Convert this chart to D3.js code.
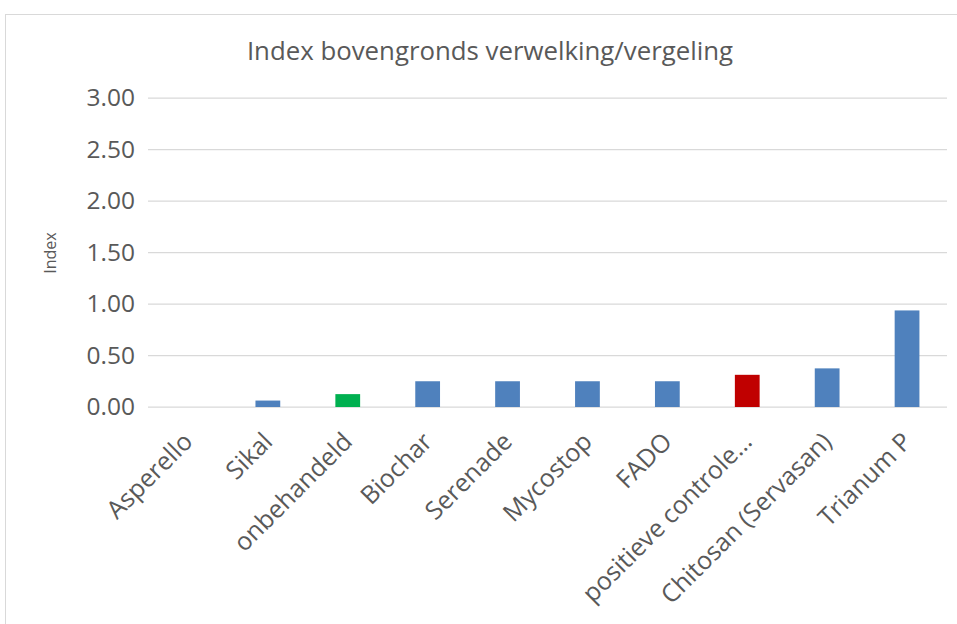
<!DOCTYPE html>
<html><head><meta charset="utf-8">
<script src="https://cdn.jsdelivr.net/npm/d3@7"></script>
<style>body{margin:0;background:#fff;} svg{display:block;}</style>
</head><body>
<svg id="c" width="957" height="624"></svg>
<script>
const categories = ["Asperello","Sikal","onbehandeld","Biochar","Serenade","Mycostop","FADO","positieve controle…","Chitosan (Servasan)","Trianum P"];
const values = [0, 0.0625, 0.125, 0.25, 0.25, 0.25, 0.25, 0.3125, 0.375, 0.9375];
const barColors = ["#4f81bd","#4f81bd","#00b050","#4f81bd","#4f81bd","#4f81bd","#4f81bd","#c00000","#4f81bd","#4f81bd"];
const yTicks = [0, 0.5, 1, 1.5, 2, 2.5, 3];
const chartTitle = "Index bovengronds verwelking/vergeling";
const yTitle = "Index";

(function(){
const svg = d3.select("#c");
const font = "'Open Sans', sans-serif";
const pL = 148, pR = 947, pT = 98, pB = 407;

svg.append("rect").attr("x",5.5).attr("y",14.5).attr("width",1000).attr("height",1000)
  .attr("fill","#fff").attr("stroke","#d9d9d9");

const x = d3.scaleBand().domain(categories).range([pL,pR]).paddingInner(0.69).paddingOuter(0.345);
const y = d3.scaleLinear().domain([0,3]).range([pB,pT]);

svg.append("g").selectAll("line").data(yTicks).join("line")
  .attr("x1",pL).attr("x2",pR).attr("y1",d=>y(d)).attr("y2",d=>y(d))
  .attr("stroke","#d9d9d9").attr("stroke-width",1.25);

const ya = svg.append("g").attr("transform",`translate(${pL},0)`)
  .call(d3.axisLeft(y).tickValues(yTicks).tickFormat(d3.format(".2f")).tickSize(0).tickPadding(13));
ya.select(".domain").remove();
ya.selectAll("text").attr("font-family",font).attr("font-size",24.5).attr("fill","#595959");

svg.append("g").selectAll("rect").data(categories).join("rect")
  .attr("x",d=>x(d)).attr("width",x.bandwidth())
  .attr("y",(d,i)=>y(values[i])).attr("height",(d,i)=>y(0)-y(values[i]))
  .attr("fill",(d,i)=>barColors[i]);

const xa = svg.append("g").attr("transform",`translate(0,${pB})`)
  .call(d3.axisBottom(x).tickSize(0).tickPadding(0));
xa.select(".domain").remove();
xa.selectAll("text").attr("font-family",font).attr("font-size",25).attr("fill","#595959")
  .attr("text-anchor","end").attr("dy","0.35em")
  .attr("transform","translate(0,30) rotate(-45)");

svg.append("text").attr("x",490).attr("y",60).attr("text-anchor","middle")
  .attr("font-family",font).attr("font-size",25.8).attr("fill","#595959").text(chartTitle);

svg.append("text").attr("transform","translate(56,253) rotate(-90)").attr("text-anchor","middle")
  .attr("font-family",font).attr("font-size",16).attr("fill","#595959").text(yTitle);
})();
</script>
</body></html>
